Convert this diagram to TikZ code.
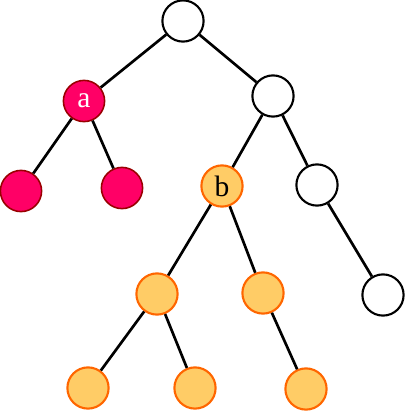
\documentclass[tikz,border=0pt]{standalone}
\usepackage{fontspec}
\setmainfont{Liberation Serif}
\usepackage{xcolor}
\definecolor{treeRed}{HTML}{FF0066}
\definecolor{treeRedEdge}{HTML}{990000}
\definecolor{treeGold}{HTML}{FFCC66}
\definecolor{treeGoldEdge}{HTML}{FF6600}
\usepackage{tikz}

\begin{document}
\begin{tikzpicture}[x=0.025cm, y=-0.025cm,
    vert/.style={circle, draw, line width=1.5pt, minimum size=1.03cm, inner sep=0pt,
                 font=\fontsize{21}{24}\selectfont},
    plain/.style={vert, draw=black, fill=white},
    redv/.style={vert, draw=treeRedEdge, line width=1.1pt, fill=treeRed, text=white},
    goldv/.style={vert, draw=treeGoldEdge, line width=1.5pt, fill=treeGold},
    edge/.style={line width=1.9pt}]
  \useasboundingbox (0,0) rectangle (405,414);

  % ---------------- the vertices ----------------
  \node[plain] (root) at (183,21) {};
  \node[redv]  (a)    at (84,101) {a};
  \node[plain] (r)    at (273,96) {};
  \node[redv]  (al)   at (21,191) {};
  \node[redv]  (ar)   at (122,188) {};
  \node[goldv] (b)    at (222,186) {b};
  \node[plain] (rr)   at (317,185) {};
  \node[goldv] (bl)   at (157,294) {};
  \node[goldv] (br)   at (263,293) {};
  \node[plain] (rrr)  at (383,295) {};
  \node[goldv] (bll)  at (88,388) {};
  \node[goldv] (blr)  at (195,388) {};
  \node[goldv] (brr)  at (306,389) {};

  % ---------------- the edges ----------------
  \draw[edge] (root) -- (a);
  \draw[edge] (root) -- (r);
  \draw[edge] (a) -- (al);
  \draw[edge] (a) -- (ar);
  \draw[edge] (r) -- (b);
  \draw[edge] (r) -- (rr);
  \draw[edge] (b) -- (bl);
  \draw[edge] (b) -- (br);
  \draw[edge] (rr) -- (rrr);
  \draw[edge] (bl) -- (bll);
  \draw[edge] (bl) -- (blr);
  \draw[edge] (br) -- (brr);
\end{tikzpicture}
\end{document}
